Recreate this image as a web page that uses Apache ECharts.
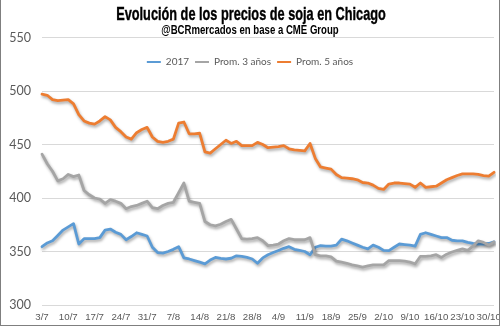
<!DOCTYPE html>
<html>
<head>
<meta charset="utf-8">
<script src="https://cdn.jsdelivr.net/npm/echarts@6/dist/echarts.min.js"></script>
<style>
  html, body { margin: 0; padding: 0; background: #fff; }
  #frame { width: 500px; height: 326px; box-sizing: border-box; border-left: 1px solid #7f7f7f; border-right: 1px solid #7f7f7f; border-bottom: 1px solid #7f7f7f; }
  #chart { width: 498px; height: 325px; }
</style>
</head>
<body>
<div id="frame"><div id="chart"></div></div>
<script>
// Trading days, July to October 2017
const dates = [
  "3/7","4/7","5/7","6/7","7/7",
  "10/7","11/7","12/7","13/7","14/7",
  "17/7","18/7","19/7","20/7","21/7",
  "24/7","25/7","26/7","27/7","28/7",
  "31/7","1/8","2/8","3/8","4/8",
  "7/8","8/8","9/8","10/8","11/8",
  "14/8","15/8","16/8","17/8","18/8",
  "21/8","22/8","23/8","24/8","25/8",
  "28/8","29/8","30/8","31/8","1/9",
  "4/9","5/9","6/9","7/9","8/9",
  "11/9","12/9","13/9","14/9","15/9",
  "18/9","19/9","20/9","21/9","22/9",
  "25/9","26/9","27/9","28/9","29/9",
  "2/10","3/10","4/10","5/10","6/10",
  "9/10","10/10","11/10","12/10","13/10",
  "16/10","17/10","18/10","19/10","20/10",
  "23/10","24/10","25/10","26/10","27/10",
  "30/10","31/10"
];

// Dólares por hectárea
const serie2017 = [
  354.5, 358, 360, 365, 370,
  373, 376, 357, 362, 362,
  362, 363, 370, 371, 368,
  366, 361, 364, 367.5, 366,
  364.5, 354, 349, 348.5, 350,
  352, 354.5, 344, 343, 341.5,
  340, 338.5, 342, 344.5, 343.5,
  343, 343.7, 346, 345.5, 344.5,
  343, 339, 344, 347, 349,
  351, 353, 354.5, 352, 351,
  350, 347, 354, 355.5, 355,
  355, 356, 361.5, 360, 358,
  356, 354, 352.5, 356, 354,
  351, 350.8, 354, 357, 356.5,
  356, 355, 366, 367.5, 366,
  364.5, 363, 363, 360.5, 360,
  360, 358.5, 357.5, 357, 357,
  357.5, 359
];

const prom3 = [
  441, 432, 425, 416, 418,
  422, 420, 421.5, 407, 403,
  400, 399, 395, 398.5, 397,
  395, 390, 392, 393, 395,
  397, 391, 390, 393, 395,
  396, 405, 414, 397, 396,
  395, 378, 375, 374, 375.5,
  378, 380, 371, 362, 361.5,
  362, 363, 360, 355.5, 356,
  357, 360, 362, 361, 361,
  361, 363, 347, 346, 346,
  345, 341, 340, 339, 337.5,
  336.5, 335.5, 336.5, 337.5, 337.5,
  337.5, 341.5, 341.5, 341.5, 341,
  340, 338.5, 345.5, 345.5, 346,
  347, 344.5, 347.5, 349.5, 351,
  352.5, 351, 355, 360, 358.5,
  356, 359
];

const prom5 = [
  497, 496, 492, 491, 491.5,
  492, 488, 478, 472, 470,
  469, 472, 476, 473, 466,
  462, 457, 455, 461, 464,
  466, 457, 453, 452, 453,
  455, 470, 471, 460, 460,
  460.5, 443, 442, 446, 450,
  454, 451, 453, 449, 449,
  449, 452, 450, 447, 447.5,
  448, 449, 446, 445, 444.5,
  444, 451, 437, 429, 428,
  427, 422, 419, 418.5, 418,
  417, 414.5, 414, 412, 409,
  408, 413, 414, 414, 413.5,
  413, 410, 414, 410, 410.5,
  411, 414, 417, 419, 421,
  422.5, 422.5, 422.5, 422, 421,
  420.5, 424
];

const seriesNames = ["2017", "Prom. 3 años", "Prom. 5 años"];
const seriesColors = ["#5B9BD5", "#A5A5A5", "#ED7D31"];
const yTicks = { min: 300, max: 550, step: 50 };
const labelEvery = 5; // one date label per trading week

const chart = echarts.init(document.getElementById('chart'), null, { renderer: 'canvas' });

const lineShadow = {
  shadowColor: 'rgba(0,0,0,0.35)',
  shadowBlur: 3,
  shadowOffsetX: 1,
  shadowOffsetY: 2
};

function makeSeries(name, values, color) {
  return {
    name: name,
    type: 'line',
    data: values,
    showSymbol: false,
    symbol: 'none',
    smooth: false,
    lineStyle: Object.assign({ width: 2.8, color: color, cap: 'round', join: 'round' }, lineShadow),
    itemStyle: { color: color },
    emphasis: { disabled: true },
    animation: false
  };
}

chart.setOption({
  animation: false,
  backgroundColor: '#ffffff',
  graphic: [
    {
      type: 'text',
      x: 250, y: 15,
      scaleX: 0.67,
      style: {
        text: 'Evolución de los precios de soja en Chicago',
        font: 'bold 19px "Liberation Sans Narrow", "Liberation Sans", sans-serif',
        fill: '#000000',
        stroke: '#000000',
        lineWidth: 0.4,
        textAlign: 'center',
        textVerticalAlign: 'middle'
      }
    },
    {
      type: 'text',
      x: 249, y: 31,
      scaleX: 0.8,
      style: {
        text: '@BCRmercados en base a CME Group',
        font: 'bold 12px "Liberation Sans Narrow", "Liberation Sans", sans-serif',
        fill: '#000000',
        textAlign: 'center',
        textVerticalAlign: 'middle'
      }
    }
  ],
  legend: {
    top: 52,
    left: 'center',
    icon: 'rect',
    itemWidth: 14,
    itemHeight: 2,
    itemGap: 6,
    selectedMode: false,
    textStyle: { color: '#595959', fontSize: 10, fontFamily: 'Lato, sans-serif' },
    data: seriesNames.map((n, i) => ({ name: n, itemStyle: { color: seriesColors[i] } }))
  },
  grid: { left: 41, right: 5, top: 37.5, bottom: 20, containLabel: false, outerBoundsMode: 'none' },
  xAxis: {
    type: 'category',
    data: dates,
    boundaryGap: false,
    axisLine: { show: false },
    axisTick: { show: false },
    axisLabel: {
      interval: function (idx) { return idx % labelEvery === 0; },
      color: '#595959',
      fontSize: 9.7,
      fontFamily: '"Liberation Sans Narrow", sans-serif',
      margin: 7,
      hideOverlap: false,
      alignMaxLabel: 'center'
    },
    splitLine: { show: false }
  },
  yAxis: {
    type: 'value',
    min: yTicks.min,
    max: yTicks.max,
    interval: yTicks.step,
    name: 'Dólares/ha',
    nameLocation: 'middle',
    nameGap: 32,
    nameTextStyle: { color: '#595959', fontSize: 10.5, fontFamily: 'Lato, sans-serif' },
    axisLine: { show: false },
    axisTick: { show: false },
    axisLabel: { color: '#595959', fontSize: 12.5, fontFamily: 'Lato, sans-serif', margin: 11 },
    splitLine: { lineStyle: { color: '#D9D9D9', width: 1 } }
  },
  series: [
    makeSeries(seriesNames[0], serie2017, seriesColors[0]),
    makeSeries(seriesNames[1], prom3, seriesColors[1]),
    makeSeries(seriesNames[2], prom5, seriesColors[2])
  ]
});
</script>
</body>
</html>
